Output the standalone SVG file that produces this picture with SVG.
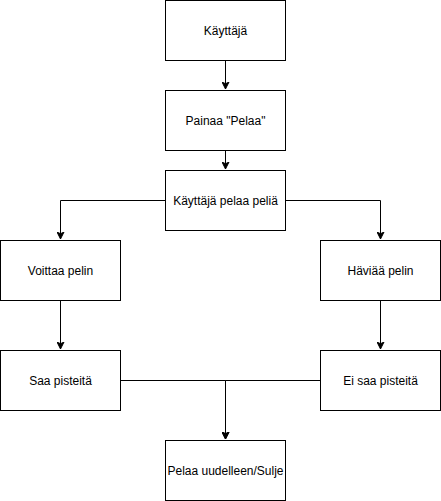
<svg xmlns="http://www.w3.org/2000/svg" width="441" height="501" viewBox="0 0 441 501">
<defs>
<style>
.box{fill:#ffffff;stroke:#000000;stroke-width:1}
.lbl{font-family:"Liberation Sans",Arial,sans-serif;font-size:12px;fill:#000000;text-anchor:middle;dominant-baseline:central}
.edge{fill:none;stroke:#000000;stroke-width:1}
</style>
<marker id="arr" viewBox="0 0 8 8" refX="7" refY="4" markerWidth="8" markerHeight="8" markerUnits="userSpaceOnUse" orient="auto">
<path d="M0 0.5 L7 4 L0 7.5 L1.75 4 Z" fill="#000" stroke="#000" stroke-width="1"/>
</marker>
</defs>
<rect width="441" height="501" fill="#ffffff"/>
<g id="connectors">
<path class="edge" d="M225.5 60.5 L225.5 89" marker-end="url(#arr)"/>
<path class="edge" d="M225.5 150.5 L225.5 169" marker-end="url(#arr)"/>
<path class="edge" d="M165.5 200.5 L60.5 200.5 L60.5 239" marker-end="url(#arr)"/>
<path class="edge" d="M285.5 200.5 L380.5 200.5 L380.5 239" marker-end="url(#arr)"/>
<path class="edge" d="M60.5 300.5 L60.5 349" marker-end="url(#arr)"/>
<path class="edge" d="M380.5 300.5 L380.5 349" marker-end="url(#arr)"/>
<path class="edge" d="M120.5 380.5 L225.5 380.5 L225.5 439" marker-end="url(#arr)"/>
<path class="edge" d="M320.5 380.5 L225.5 380.5 L225.5 439" marker-end="url(#arr)"/>
</g>
<g id="kayttaja"><rect class="box" x="165.5" y="0.5" width="120" height="60"/><text class="lbl" x="225.5" y="30.5">Käyttäjä</text></g>
<g id="painaa"><rect class="box" x="165.5" y="90.5" width="120" height="60"/><text class="lbl" x="225.5" y="120.5">Painaa "Pelaa"</text></g>
<g id="pelaa-pelia"><rect class="box" x="165.5" y="170.5" width="120" height="60"/><text class="lbl" x="225.5" y="200.5">Käyttäjä pelaa peliä</text></g>
<g id="voittaa"><rect class="box" x="0.5" y="240.5" width="120" height="60"/><text class="lbl" x="60.5" y="270.5">Voittaa pelin</text></g>
<g id="haviaa"><rect class="box" x="320.5" y="240.5" width="120" height="60"/><text class="lbl" x="380.5" y="270.5">Häviää pelin</text></g>
<g id="saa"><rect class="box" x="0.5" y="350.5" width="120" height="60"/><text class="lbl" x="60.5" y="380.5">Saa pisteitä</text></g>
<g id="ei-saa"><rect class="box" x="320.5" y="350.5" width="120" height="60"/><text class="lbl" x="380.5" y="380.5">Ei saa pisteitä</text></g>
<g id="uudelleen"><rect class="box" x="165.5" y="440.5" width="120" height="60"/><text class="lbl" x="225.5" y="470.5">Pelaa uudelleen/Sulje</text></g>
</svg>
